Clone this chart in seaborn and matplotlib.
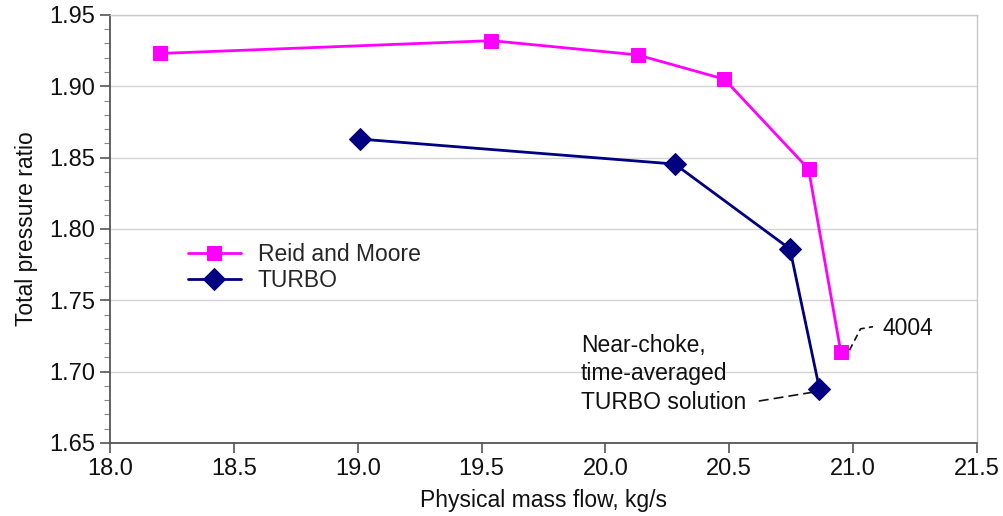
import matplotlib
matplotlib.use("Agg")
import matplotlib.pyplot as plt
from matplotlib.ticker import MultipleLocator, FormatStrFormatter
import numpy as np
import pandas as pd
import seaborn as sns

# Measured compressor characteristic (total pressure ratio vs. mass flow)
reid_flow = [18.20, 19.54, 20.13, 20.48, 20.82, 20.95]
reid_ratio = [1.923, 1.932, 1.922, 1.905, 1.842, 1.714]

# TURBO simulation results
turbo_flow = [19.01, 20.28, 20.745, 20.864]
turbo_ratio = [1.863, 1.8455, 1.786, 1.688]

series_names = ["Reid and Moore", "TURBO"]
series_colors = ["#FF00FF", "#000080"]
series_markers = ["s", "D"]

x_label = "Physical mass flow, kg/s"
y_label = "Total pressure ratio"
point_label = "4004"
note_text = "Near-choke,\ntime-averaged\nTURBO solution"

df = pd.concat([
    pd.DataFrame({"flow": reid_flow, "ratio": reid_ratio, "source": series_names[0]}),
    pd.DataFrame({"flow": turbo_flow, "ratio": turbo_ratio, "source": series_names[1]}),
], ignore_index=True)

sns.set_theme(style="white")
plt.rcParams["font.family"] = ["Liberation Sans", "DejaVu Sans"]
FS = 16.5
TICK_FS = 17

fig = plt.figure(figsize=(10.04, 5.16), dpi=100)
ax = fig.add_axes([0.1096, 0.1415, 0.8635, 0.8295])

for name, color, marker, msize in zip(series_names, series_colors, series_markers, [10.5, 11.5]):
    sub = df[df["source"] == name]
    sns.lineplot(data=sub, x="flow", y="ratio", ax=ax, color=color, marker=marker,
                 markersize=msize, markeredgecolor=color, linewidth=2.0,
                 sort=False, label=name, estimator=None)

ax.set_xlim(18.0, 21.5)
ax.set_ylim(1.65, 1.95)
ax.xaxis.set_major_locator(MultipleLocator(0.5))
ax.yaxis.set_major_locator(MultipleLocator(0.05))
ax.yaxis.set_minor_locator(MultipleLocator(0.01))
ax.xaxis.set_major_formatter(FormatStrFormatter("%.1f"))
ax.yaxis.set_major_formatter(FormatStrFormatter("%.2f"))

ax.grid(axis="y", which="major", color="#d4d4d4", linewidth=1.0)
ax.set_axisbelow(True)
for side in ["top", "right"]:
    ax.spines[side].set_color("#c8c8c8")
    ax.spines[side].set_linewidth(1.0)
for side in ["left", "bottom"]:
    ax.spines[side].set_color("#555555")
    ax.spines[side].set_linewidth(1.3)

ax.tick_params(axis="both", which="major", direction="out", length=7, width=1.2,
               color="#555555", labelsize=TICK_FS, labelcolor="#111111", pad=4,
               left=True, bottom=True)
ax.tick_params(axis="y", which="minor", direction="out", length=4, width=0.8,
               color="#888888", left=True)

ax.set_xlabel(x_label, fontsize=FS, color="#111111", labelpad=6)
ax.set_ylabel(y_label, fontsize=FS, color="#111111", labelpad=8)

leg = ax.legend(loc="upper left", bbox_to_anchor=(0.066, 0.516), frameon=False,
                fontsize=FS, handlelength=2.3, handletextpad=0.75, labelspacing=0.15)

# Label for the last measured point
rx, ry = reid_flow[-1], reid_ratio[-1]
ax.plot([rx + 0.035, rx + 0.08, rx + 0.13], [ry + 0.001, ry + 0.016, ry + 0.0175],
        color="#111111", linewidth=1.2, linestyle=(0, (4, 2.5)))
ax.text(rx + 0.17, ry + 0.0165, point_label, fontsize=FS, color="#111111",
        ha="left", va="center")

# Note on the near-choke TURBO point
tx, ty = turbo_flow[-1], turbo_ratio[-1]
ax.plot([tx - 0.245, tx - 0.03], [ty - 0.0086, ty - 0.0025],
        color="#111111", linewidth=1.2, linestyle=(0, (6, 3)))
ax.text(19.90, 1.6985, note_text, fontsize=FS, color="#111111",
        ha="left", va="center", linespacing=1.32)

fig.savefig("out.png", dpi=100, facecolor="white")
